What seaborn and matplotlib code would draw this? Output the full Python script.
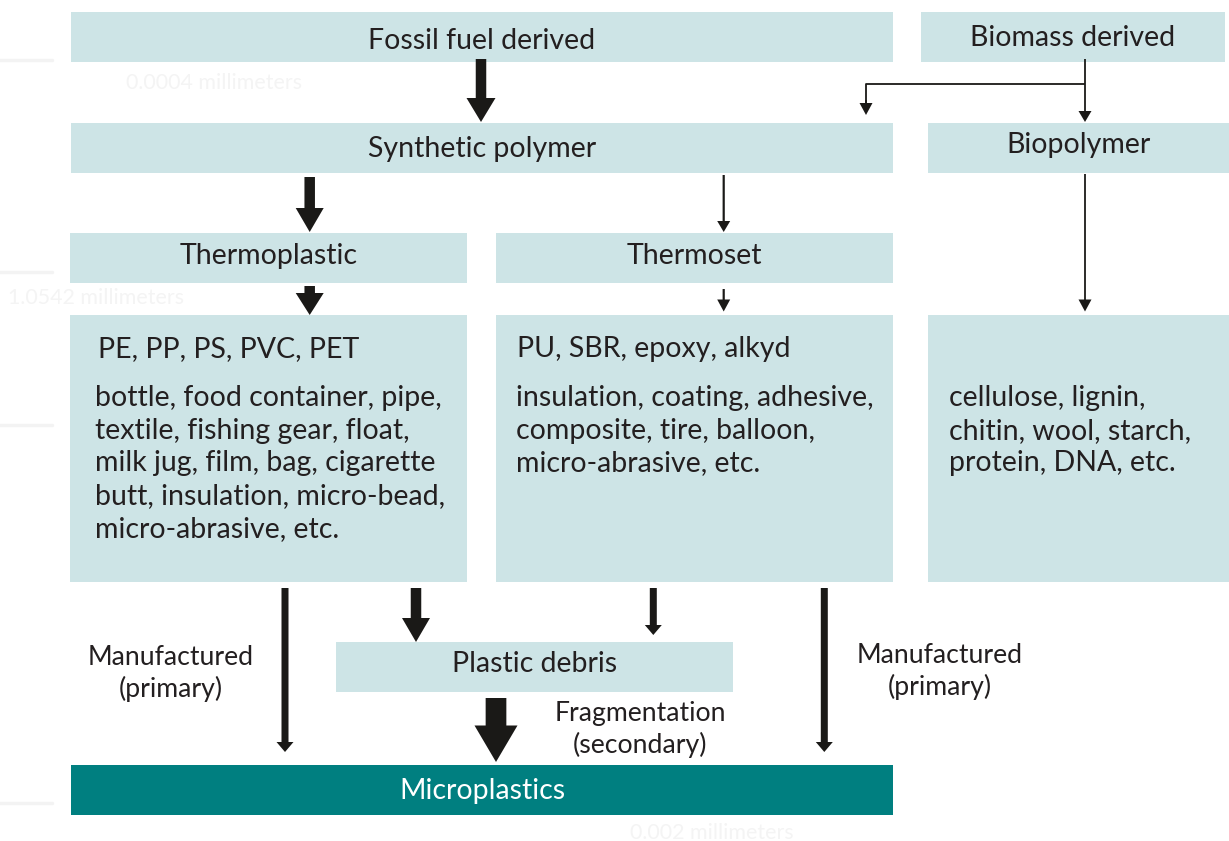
import matplotlib
matplotlib.use("Agg")
import matplotlib.pyplot as plt
from matplotlib.patches import Rectangle, FancyArrow
import seaborn as sns

# ---------------- data (text content) ----------------
box_labels = ["Fossil fuel derived", "Biomass derived", "Synthetic polymer", "Biopolymer",
              "Thermoplastic", "Thermoset", "Plastic debris", "Microplastics"]
polymer_types = ["PE, PP, PS, PVC, PET", "PU, SBR, epoxy, alkyd"]
thermoplastic_items = ["bottle, food container, pipe,", "textile, fishing gear, float,",
                       "milk jug, film, bag, cigarette", "butt, insulation, micro-bead,",
                       "micro-abrasive, etc."]
thermoset_items = ["insulation, coating, adhesive,", "composite, tire, balloon,",
                   "micro-abrasive, etc."]
biopolymer_items = ["cellulose, lignin,", "chitin, wool, starch,", "protein, DNA, etc."]
pathway_labels = [["Manufactured", "(primary)"], ["Fragmentation", "(secondary)"],
                  ["Manufactured", "(primary)"]]
watermark_labels = ["0.0004 millimeters", "1.0542 millimeters", "0.002 millimeters"]

# ---------------- layout (pixel space) ----------------
W, H = 1229, 841
LIGHT = "#cde4e6"
TEAL = "#007f80"
INK = "#231f20"
ARROW = "#1a1917"

boxes = {  # x0, y0, x1, y1
    "Fossil fuel derived": (71, 12, 893, 62),
    "Biomass derived": (921, 12, 1225, 62),
    "Synthetic polymer": (71, 123, 893, 173),
    "Biopolymer": (928, 123, 1229, 173),
    "Thermoplastic": (70, 233, 467, 283),
    "Thermoset": (496, 233, 893, 283),
    "Plastic debris": (336, 642, 733, 692),
    "Microplastics": (71, 765, 893, 815),
}
content_boxes = [(70, 315, 467, 582), (496, 315, 893, 582), (928, 315, 1229, 582)]
label_baseline = {
    "Fossil fuel derived": 49, "Biomass derived": 46, "Synthetic polymer": 157,
    "Biopolymer": 153, "Thermoplastic": 264, "Thermoset": 264,
    "Plastic debris": 672, "Microplastics": 799,
}

sns.set_theme(style="white")
plt.rcParams["font.family"] = ["Lato", "DejaVu Sans"]

fig = plt.figure(figsize=(W / 100, H / 100), dpi=100)
ax = fig.add_axes([0, 0, 1, 1])
ax.set_xlim(0, W)
ax.set_ylim(H, 0)
ax.axis("off")

# fit font size so that a reference line has the measured width
renderer = fig.canvas.get_renderer()
probe = ax.text(0, 0, thermoplastic_items[0], fontsize=20)
wpx = probe.get_window_extent(renderer).width
probe.remove()
FS = 20 * 347.0 / wpx

# faint watermark
for y in (60, 272, 425, 803):
    ax.plot([0, 52], [y, y], color="#f3f3f3", lw=2.5, zorder=0)
for txt, (x, y) in zip(watermark_labels, [(126, 89), (8, 304), (630, 839)]):
    ax.text(x, y, txt, fontsize=FS * 0.75, color="#f4f4f4", va="baseline", ha="left", zorder=0)

# boxes
for name, (x0, y0, x1, y1) in boxes.items():
    col = TEAL if name == "Microplastics" else LIGHT
    ax.add_patch(Rectangle((x0, y0), x1 - x0, y1 - y0, facecolor=col, edgecolor="none", zorder=1))
    ax.text((x0 + x1) / 2, label_baseline[name], name, fontsize=FS,
            color="white" if name == "Microplastics" else INK,
            ha="center", va="baseline", zorder=3)
for (x0, y0, x1, y1) in content_boxes:
    ax.add_patch(Rectangle((x0, y0), x1 - x0, y1 - y0, facecolor=LIGHT, edgecolor="none", zorder=1))

# content text
ax.text(98, 357, polymer_types[0], fontsize=FS, color=INK, va="baseline", zorder=3)
ax.text(517, 357, polymer_types[1], fontsize=FS, color=INK, va="baseline", zorder=3)
for i, line in enumerate(thermoplastic_items):
    ax.text(95, 406 + i * 32.7, line, fontsize=FS, color=INK, va="baseline", zorder=3)
for i, line in enumerate(thermoset_items):
    ax.text(516, 406 + i * 32.7, line, fontsize=FS, color=INK, va="baseline", zorder=3)
for i, line in enumerate(biopolymer_items):
    ax.text(949, 406 + i * 32.7, line, fontsize=FS, color=INK, va="baseline", zorder=3)

# pathway labels
for lines, (cx, b0) in zip(pathway_labels, [(171, 665), (640, 721), (940, 663)]):
    for j, line in enumerate(lines):
        ax.text(cx, b0 + j * 32.5, line, fontsize=FS * 0.935, color=INK,
                ha="center", va="baseline", zorder=3)

# arrows: x, y_start, y_end, shaft width, head width, head length
arrows = [
    (481, 59, 122, 10.5, 29, 24),
    (309.7, 177, 232, 10.5, 28, 24),
    (309.7, 286, 315, 10.5, 28, 22),
    (723.7, 175, 232, 2.2, 13, 11),
    (723.7, 289, 311.5, 2.2, 13, 12),
    (1085, 59, 122, 1.8, 13, 11),
    (1085, 174, 311.5, 1.8, 13, 12),
    (285, 588, 752, 7, 17, 10),
    (416, 588, 642, 10.5, 28, 24),
    (653.3, 588, 635, 7, 17, 10),
    (824.3, 588, 752, 7, 17, 10),
    (496, 698, 762, 20.7, 43, 36.5),
]
for x, y0, y1, sw, hw, hl in arrows:
    ax.add_patch(FancyArrow(x, y0, 0, y1 - y0, width=sw, head_width=hw, head_length=hl,
                            length_includes_head=True, color=ARROW, lw=0, zorder=4))

# biomass branch to synthetic polymer
ax.plot([1085, 866, 866], [84, 84, 104], color=ARROW, lw=1.3, zorder=4, solid_capstyle="butt")
ax.add_patch(FancyArrow(866, 100, 0, 15, width=1.8, head_width=13, head_length=12,
                        length_includes_head=True, color=ARROW, lw=0, zorder=4))

fig.savefig("out.png", dpi=100)
